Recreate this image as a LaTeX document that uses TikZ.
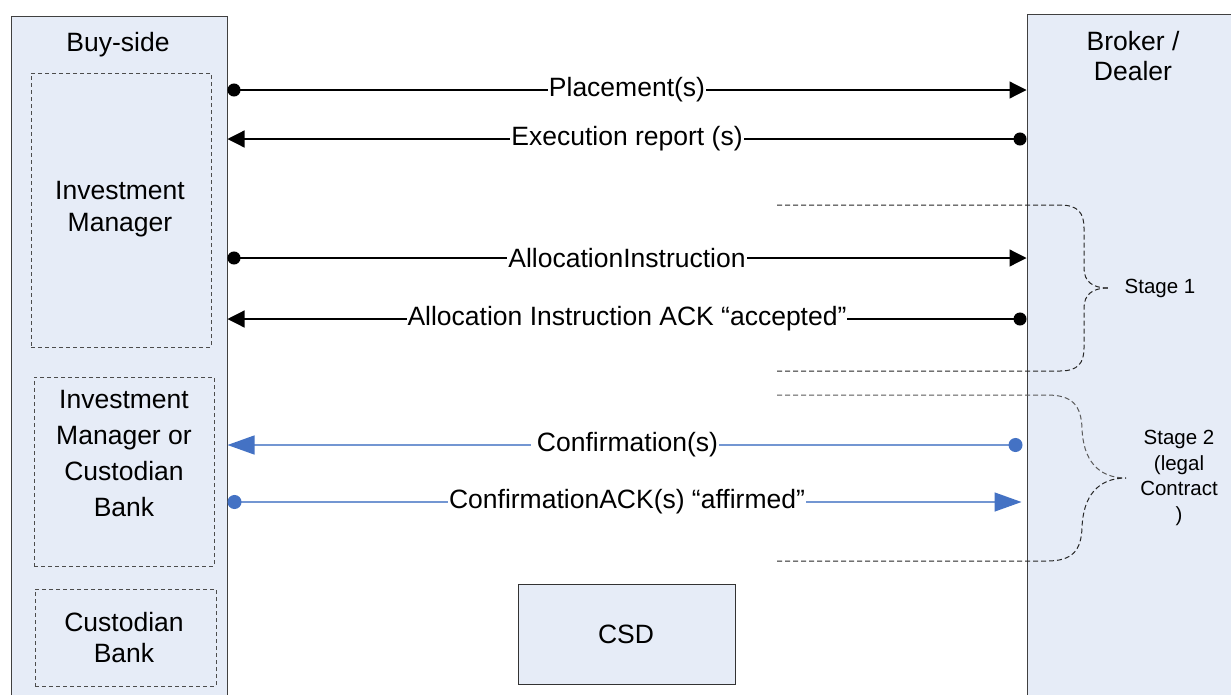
\documentclass[tikz,border=0pt]{standalone}
\usepackage{fontspec}
\setmainfont{Liberation Sans}
\usetikzlibrary{arrows.meta}
\definecolor{boxfill}{HTML}{E6ECF7}
\definecolor{confline}{HTML}{7396D2}
\definecolor{confhead}{HTML}{4472C4}
\tikzset{
  lbl/.style={font=\fontsize{26.5}{32}\selectfont, align=center, inner sep=0pt},
  small/.style={font=\fontsize{20.5}{25.5}\selectfont, align=center, inner sep=0pt},
  party/.style={draw=black!75, fill=boxfill, line width=1pt, inner sep=0pt},
  role/.style={draw=black!70, dash pattern=on 4pt off 3pt, line width=0.9pt, inner sep=0pt},
  msg/.style={line width=1.2pt, {Circle[length=13pt]}-{Triangle[length=17pt,width=17pt]}},
  conf/.style={line width=1.4pt, draw=confline, {Circle[length=14pt,color=confhead]}-{Triangle[length=27pt,width=19pt,color=confhead]}},
  msglabel/.style={lbl, fill=white, inner xsep=1pt, inner ysep=0pt},
  stageline/.style={line width=1pt, dash pattern=on 5pt off 3pt, draw=black!85},
}
\begin{document}
\begin{tikzpicture}[x=1pt, y=-1pt]
\clip (0,0) rectangle (1231,694);
\fill[white] (0,0) rectangle (1231,694);

% parties
\node[party, minimum width=216pt, minimum height=700pt] (buy) at (119,366) {};
\node[party, minimum width=220pt, minimum height=702pt] (broker) at (1137,365) {};
\node[lbl] (buylbl) at (118,45) {Buy-side};
\node[lbl, font=\fontsize{26.5}{30}\selectfont] (brokerlbl) at (1133,56) {Broker /\\Dealer};

% roles on the buy-side
\node[role, minimum width=180pt, minimum height=274pt] (im) at (121,210) {};
\node[lbl] (imlbl) at (120,209) {Investment\\Manager};
\node[role, minimum width=180pt, minimum height=189pt] (imcb) at (124,471.5) {};
\node[lbl, font=\fontsize{26.5}{36}\selectfont] (imcblbl) at (124,454) {Investment\\Manager or\\Custodian\\Bank};
\node[role, minimum width=181pt, minimum height=97pt] (cb) at (125.5,637.5) {};
\node[lbl, font=\fontsize{26.5}{31}\selectfont] (cblbl) at (124,637.5) {Custodian\\Bank};

% CSD
\node[party, draw=black!80, minimum width=217pt, minimum height=100pt] (csd) at (626.5,634) {};
\node[lbl] (csdlbl) at (626,634) {CSD};

% messages
\draw[msg] (buy.east |- 0,90) -- node[msglabel] {Placement(s)} (broker.west |- 0,90);
\draw[msg] (broker.west |- 0,139) -- node[msglabel] {Execution report (s)} (buy.east |- 0,139);
\draw[msg] (buy.east |- 0,258) -- node[msglabel] {AllocationInstruction} (broker.west |- 0,258);
\draw[msg] (broker.west |- 0,319) -- node[msglabel] {Allocation Instruction ACK “accepted”} (buy.east |- 0,319);
\draw[conf, shorten <=4pt] (broker.west |- 0,445) -- node[msglabel, xshift=-2pt] {\hspace{5pt}Confirmation(s)} (buy.east |- 0,445);
\draw[conf, shorten >=5pt] (buy.east |- 0,502) -- node[msglabel] {ConfirmationACK(s) “affirmed”} (broker.west |- 0,502);

% stage 1 bracket
\coordinate (s1a) at (777,205);
\coordinate (s1b) at (777,371);
\draw[stageline] (s1a) -- (1060,205) .. controls (1078,205) and (1084,213) .. (1084,228)
  -- (1084,268) .. controls (1084,282) and (1093,288) .. (1108,288);
\draw[stageline] (s1b) -- (1060,371) .. controls (1078,371) and (1084,363) .. (1084,348)
  -- (1084,308) .. controls (1084,294) and (1093,288) .. (1108,288);
\node[small] (stage1) at (1160,288) {Stage 1};

% stage 2 bracket
\coordinate (s2a) at (777,395);
\coordinate (s2b) at (777,561);
\draw[stageline, draw=black!65] (s2a) -- (1047,395) .. controls (1072,395) and (1081,405) .. (1082,428)
  .. controls (1083,460) and (1098,478) .. (1126,478);
\draw[stageline] (s2b) -- (1047,561) .. controls (1072,561) and (1081,551) .. (1082,528)
  .. controls (1083,496) and (1098,478) .. (1126,478);
\node[small] (stage2) at (1179,478) {Stage 2\\(legal\\Contract\\)};
\end{tikzpicture}
\end{document}
